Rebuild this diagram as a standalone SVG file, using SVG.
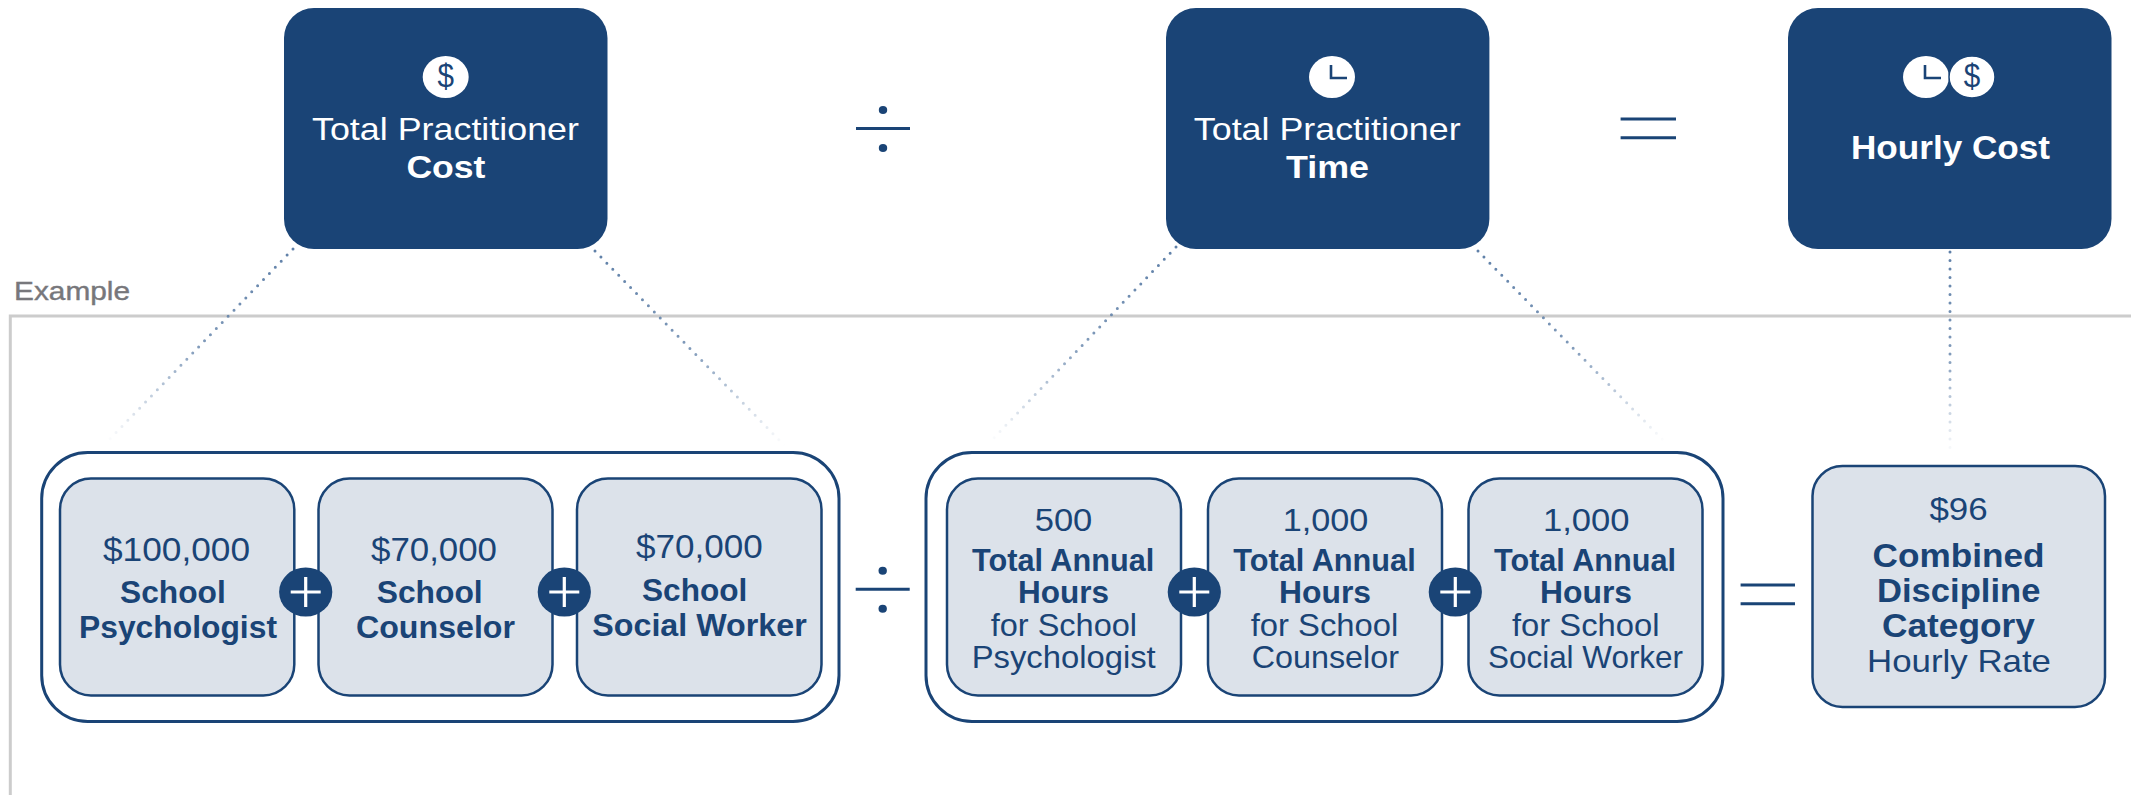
<svg xmlns="http://www.w3.org/2000/svg" width="2131" height="795" viewBox="0 0 2131 795">
<style>
text{font-family:"Liberation Sans",Arial,sans-serif;fill:#1a4476;font-size:32px}
.b{font-weight:700}
.w{fill:#fff}
.hd{fill:#1a4476}
.in{fill:#dce2ea;stroke:#1a4476;stroke-width:2.5}
.out{fill:#fff;stroke:#1a4476;stroke-width:3}
.op{stroke:#1a4476;stroke-width:3;fill:none}
.dot{fill:none;stroke-width:3;stroke-linecap:round;stroke-dasharray:0 8.5}
.plus{stroke:#fff;stroke-width:3.2;fill:none}
.hand{stroke:#1a4476;stroke-width:2.6;fill:none}
</style>
<defs>
<linearGradient id="g1" gradientUnits="userSpaceOnUse" x1="293" y1="249" x2="107" y2="442"><stop offset="0" stop-color="#5f80a8"/><stop offset="0.5" stop-color="#5f80a8" stop-opacity=".8"/><stop offset="1" stop-color="#5f80a8" stop-opacity="0"/></linearGradient>
<linearGradient id="g2" gradientUnits="userSpaceOnUse" x1="595" y1="251" x2="785" y2="446"><stop offset="0" stop-color="#5f80a8"/><stop offset="0.5" stop-color="#5f80a8" stop-opacity=".8"/><stop offset="1" stop-color="#5f80a8" stop-opacity="0"/></linearGradient>
<linearGradient id="g3" gradientUnits="userSpaceOnUse" x1="1176" y1="247" x2="990" y2="442"><stop offset="0" stop-color="#5f80a8"/><stop offset="0.5" stop-color="#5f80a8" stop-opacity=".8"/><stop offset="1" stop-color="#5f80a8" stop-opacity="0"/></linearGradient>
<linearGradient id="g4" gradientUnits="userSpaceOnUse" x1="1478" y1="251" x2="1665" y2="442"><stop offset="0" stop-color="#5f80a8"/><stop offset="0.5" stop-color="#5f80a8" stop-opacity=".8"/><stop offset="1" stop-color="#5f80a8" stop-opacity="0"/></linearGradient>
<linearGradient id="g5" gradientUnits="userSpaceOnUse" x1="1950" y1="252" x2="1950" y2="455"><stop offset="0" stop-color="#5f80a8"/><stop offset="0.5" stop-color="#5f80a8" stop-opacity=".8"/><stop offset="1" stop-color="#5f80a8" stop-opacity="0"/></linearGradient>
</defs>
<rect width="2131" height="795" fill="#fff"/>

<g id="example-frame">
<path d="M2131 316H10.3V795" fill="none" stroke="#ccc" stroke-width="3"/>
<text x="14" y="300" style="font-size:26px;fill:#77777b;stroke:#77777b;stroke-width:.4" textLength="116" lengthAdjust="spacingAndGlyphs">Example</text>
</g>

<g id="connectors">
<path class="dot" stroke="url(#g1)" d="M293 249L107 442"/>
<path class="dot" stroke="url(#g2)" d="M595 251L785 446"/>
<path class="dot" stroke="url(#g3)" d="M1176 247L990 442"/>
<path class="dot" stroke="url(#g4)" d="M1478 251L1665 442"/>
<path class="dot" stroke="url(#g5)" d="M1950 252V455"/>
</g>

<g id="total-cost">
<rect class="hd" x="284" y="8" width="323.5" height="241" rx="30"/>
<ellipse cx="445.7" cy="77" rx="23" ry="21" fill="#fff"/>
<text x="437.5" y="87" style="font-size:34px" textLength="16.5" lengthAdjust="spacingAndGlyphs">$</text>
<text class="w" x="312" y="140" textLength="267" lengthAdjust="spacingAndGlyphs">Total Practitioner</text>
<text class="w b" x="406.4" y="178" textLength="79" lengthAdjust="spacingAndGlyphs">Cost</text>
</g>

<g id="op-divide-top">
<path class="op" d="M856 128.5H910"/>
<ellipse class="hd" cx="883" cy="110" rx="4.2" ry="4"/>
<ellipse class="hd" cx="883" cy="148" rx="4.2" ry="4"/>
</g>

<g id="total-time">
<rect class="hd" x="1166" y="8" width="323.4" height="241" rx="30"/>
<ellipse cx="1332" cy="77" rx="23" ry="21" fill="#fff"/>
<path class="hand" d="M1331 65V78H1347"/>
<text class="w" x="1193.8" y="140" textLength="266.8" lengthAdjust="spacingAndGlyphs">Total Practitioner</text>
<text class="w b" x="1286" y="178" textLength="83" lengthAdjust="spacingAndGlyphs">Time</text>
</g>

<g id="op-equals-top">
<path class="op" d="M1620.6 119H1676M1620.6 137.7H1676"/>
</g>

<g id="hourly-cost">
<rect class="hd" x="1788" y="8" width="323.5" height="241" rx="30"/>
<ellipse cx="1926" cy="77" rx="23" ry="21" fill="#fff"/>
<path class="hand" d="M1925 65V78H1941"/>
<ellipse cx="1972" cy="77" rx="23" ry="21" stroke="#1a4476" stroke-width="1.5" fill="#fff"/>
<text x="1963.8" y="87" style="font-size:34px" textLength="16.5" lengthAdjust="spacingAndGlyphs">$</text>
<text class="w b" x="1851" y="159" style="font-size:33px" textLength="199" lengthAdjust="spacingAndGlyphs">Hourly Cost</text>
</g>

<g id="cost-group">
<rect class="out" x="41.7" y="452.5" width="797.3" height="269" rx="46"/>
</g>
<g id="school-psychologist-cost">
<rect class="in" x="60" y="478.5" width="234.3" height="217" rx="31"/>
<text x="103" y="561" style="font-size:33px" textLength="147" lengthAdjust="spacingAndGlyphs">$100,000</text>
<text class="b" x="120" y="603" textLength="105.7" lengthAdjust="spacingAndGlyphs">School</text>
<text class="b" x="79" y="638" textLength="198" lengthAdjust="spacingAndGlyphs">Psychologist</text>
</g>
<g id="school-counselor-cost">
<rect class="in" x="318.5" y="478.5" width="234" height="217" rx="31"/>
<text x="371" y="561" style="font-size:33px" textLength="126" lengthAdjust="spacingAndGlyphs">$70,000</text>
<text class="b" x="376.7" y="603" textLength="106" lengthAdjust="spacingAndGlyphs">School</text>
<text class="b" x="356" y="638" textLength="159" lengthAdjust="spacingAndGlyphs">Counselor</text>
</g>
<g id="school-social-worker-cost">
<rect class="in" x="577" y="478.5" width="244.5" height="217" rx="31"/>
<text x="636" y="558" style="font-size:33px" textLength="126.7" lengthAdjust="spacingAndGlyphs">$70,000</text>
<text class="b" x="642" y="601" textLength="105.3" lengthAdjust="spacingAndGlyphs">School</text>
<text class="b" x="592.3" y="636" textLength="214.4" lengthAdjust="spacingAndGlyphs">Social Worker</text>
</g>
<g id="plus-1"><ellipse class="hd" cx="305.7" cy="592" rx="26.6" ry="24.5"/><path class="plus" d="M290.7 592H320.7M305.7 577V607"/></g>
<g id="plus-2"><ellipse class="hd" cx="564.3" cy="592" rx="26.6" ry="24.5"/><path class="plus" d="M549.3 592H579.3M564.3 577V607"/></g>

<g id="op-divide-bottom">
<path class="op" d="M855.7 589.3H909.7"/>
<ellipse class="hd" cx="882.7" cy="570.7" rx="4.2" ry="4"/>
<ellipse class="hd" cx="882.7" cy="608.7" rx="4.2" ry="4"/>
</g>

<g id="time-group">
<rect class="out" x="926" y="452.5" width="797" height="269" rx="46"/>
</g>
<g id="hours-psychologist">
<rect class="in" x="947" y="478.5" width="234" height="217" rx="31"/>
<text x="1034.7" y="531" textLength="57.6" lengthAdjust="spacingAndGlyphs">500</text>
<text class="b" x="972" y="570.7" textLength="182.3" lengthAdjust="spacingAndGlyphs">Total Annual</text>
<text class="b" x="1018" y="603" textLength="91" lengthAdjust="spacingAndGlyphs">Hours</text>
<text x="990.7" y="635.7" textLength="146.3" lengthAdjust="spacingAndGlyphs">for School</text>
<text x="971.7" y="668" textLength="184" lengthAdjust="spacingAndGlyphs">Psychologist</text>
</g>
<g id="hours-counselor">
<rect class="in" x="1208" y="478.5" width="234" height="217" rx="31"/>
<text x="1282.7" y="531" textLength="85.6" lengthAdjust="spacingAndGlyphs">1,000</text>
<text class="b" x="1233.3" y="570.7" textLength="182.4" lengthAdjust="spacingAndGlyphs">Total Annual</text>
<text class="b" x="1279" y="603" textLength="92" lengthAdjust="spacingAndGlyphs">Hours</text>
<text x="1250.7" y="635.7" textLength="147.6" lengthAdjust="spacingAndGlyphs">for School</text>
<text x="1251.7" y="668" textLength="147.3" lengthAdjust="spacingAndGlyphs">Counselor</text>
</g>
<g id="hours-social-worker">
<rect class="in" x="1468.5" y="478.5" width="234" height="217" rx="31"/>
<text x="1543" y="531" textLength="86.6" lengthAdjust="spacingAndGlyphs">1,000</text>
<text class="b" x="1494" y="570.7" textLength="182" lengthAdjust="spacingAndGlyphs">Total Annual</text>
<text class="b" x="1540" y="603" textLength="92" lengthAdjust="spacingAndGlyphs">Hours</text>
<text x="1512" y="635.7" textLength="147.4" lengthAdjust="spacingAndGlyphs">for School</text>
<text x="1488" y="668" textLength="195" lengthAdjust="spacingAndGlyphs">Social Worker</text>
</g>
<g id="plus-3"><ellipse class="hd" cx="1194.3" cy="592" rx="26.6" ry="24.5"/><path class="plus" d="M1179.3 592H1209.3M1194.3 577V607"/></g>
<g id="plus-4"><ellipse class="hd" cx="1455.3" cy="592" rx="26.6" ry="24.5"/><path class="plus" d="M1440.3 592H1470.3M1455.3 577V607"/></g>

<g id="op-equals-bottom">
<path class="op" d="M1740.6 585H1795M1740.6 603.7H1795"/>
</g>

<g id="combined-rate">
<rect class="in" x="1812.5" y="466" width="292.5" height="241" rx="30"/>
<text x="1929.4" y="520" textLength="58.3" lengthAdjust="spacingAndGlyphs">$96</text>
<text class="b" x="1872.6" y="566.7" style="font-size:33px" textLength="171.9" lengthAdjust="spacingAndGlyphs">Combined</text>
<text class="b" x="1877" y="602" style="font-size:33px" textLength="163.4" lengthAdjust="spacingAndGlyphs">Discipline</text>
<text class="b" x="1882" y="636.7" style="font-size:33px" textLength="153" lengthAdjust="spacingAndGlyphs">Category</text>
<text x="1867" y="671.7" textLength="184" lengthAdjust="spacingAndGlyphs">Hourly Rate</text>
</g>
</svg>
